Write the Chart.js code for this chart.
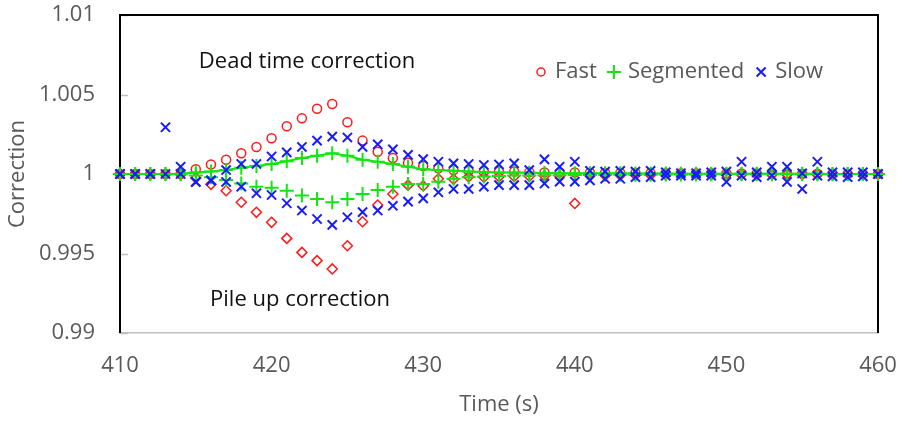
<!DOCTYPE html>
<html>
<head>
<meta charset="utf-8">
<script src="https://cdn.jsdelivr.net/npm/chart.js@4.4.0/dist/chart.umd.min.js"></script>
<style>
  html, body { margin: 0; padding: 0; background: #fff; }
</style>
</head>
<body>
<canvas id="chart" width="897" height="421"></canvas>
<script>
// time axis (s)
var time = [410, 411, 412, 413, 414, 415, 416, 417, 418, 419,
            420, 421, 422, 423, 424, 425, 426, 427, 428, 429,
            430, 431, 432, 433, 434, 435, 436, 437, 438, 439,
            440, 441, 442, 443, 444, 445, 446, 447, 448, 449,
            450, 451, 452, 453, 454, 455, 456, 457, 458, 459, 460];

// dead time correction per method
var fastDead = [1, 1, 1, 1, 1,
  1.0003, 1.0006, 1.0009, 1.0013, 1.0017,
  1.00225, 1.003, 1.0035, 1.0041, 1.0044,
  1.00325, 1.0021, 1.0014, 1.001, 1.0007,
  1.0005, 1.00036, 1.00025, 1.0002, 1.00015,
  1.00015, 1.00015, 1.00012, 1.0001, 1.0001,
  1.0001, 1.00008, 1.00008, 1.00006, 1.00006,
  1.00005, 1.00005, 1.00004, 1.00004, 1.00004,
  1.00003, 1.00003, 1.00003, 1.00003, 1.00002,
  1.00002, 1.00002, 1.00002, 1.00001, 1.00001, 1];
var segDead = [1, 1, 1, 1, 1.00002,
  1.0001, 1.00015, 1.00025, 1.0004, 1.0005,
  1.00063, 1.0008, 1.001, 1.00115, 1.0013,
  1.00115, 1.0009, 1.00077, 1.00063, 1.00046,
  1.0003, 1.00025, 1.0002, 1.00015, 1.00012,
  1.0001, 1.00009, 1.00008, 1.00007, 1.00006,
  1.00005, 1.00005, 1.00004, 1.00004, 1.00003,
  1.00003, 1.00003, 1.00002, 1.00002, 1.00002,
  1.00002, 1.00001, 1.00001, 1.00001, 1.00001,
  1.00001, 1.00001, 1, 1, 1, 1];
var slowDead = [1, 1, 1, 1.00294, 1.00046,
  0.9995, 0.9996, 1.00025, 1.00063, 1.00063,
  1.0011, 1.00136, 1.0017, 1.0021, 1.00235,
  1.0023, 1.0017, 1.00187, 1.00155, 1.0012,
  1.00094, 1.00077, 1.00067, 1.00063, 1.00057,
  1.0006, 1.00067, 1.00025, 1.00092, 1.00046,
  1.00077, 1.0002, 1.00015, 1.0002, 1.00015,
  1.0002, 1.0001, 1.00005, 1.00005, 1.0001,
  1.00015, 1.00077, 1.0001, 1.00046, 1.00046,
  1.00004, 1.00077, 1.0001, 1.0001, 1.0001, 1];

// pile up correction per method
var fastPile = [1, 1, 1, 1, 0.99998,
  0.99975, 0.99935, 0.99895, 0.99822, 0.99759,
  0.99696, 0.99595, 0.99507, 0.99455, 0.99403,
  0.99549, 0.997, 0.99805, 0.99874, 0.9993,
  0.99925, 0.9997, 0.99967, 0.99982, 0.9998,
  0.99982, 0.99984, 0.99986, 0.99988, 0.99988,
  0.99815, 0.9999, 0.9999, 0.99992, 0.99993,
  0.99994, 0.99995, 0.99995, 0.99996, 0.99996,
  0.99996, 0.99997, 0.99997, 0.99997, 0.99998,
  0.99998, 0.99998, 0.99998, 0.99999, 0.99999, 1];
var segPile = [1, 1, 1, 1, 0.99998,
  0.9999, 0.9998, 0.99962, 0.9994, 0.9992,
  0.99914, 0.99895, 0.99864, 0.99843, 0.99822,
  0.99843, 0.99874, 0.99899, 0.9992, 0.99937,
  0.99937, 0.99952, 0.9997, 0.9998, 0.99985,
  0.99988, 0.9999, 0.9999, 0.99992, 0.99992,
  0.99993, 0.99994, 0.99995, 0.99995, 0.99996,
  0.99996, 0.99997, 0.99997, 0.99997, 0.99998,
  0.99998, 0.99998, 0.99998, 0.99999, 0.99999,
  0.99999, 0.99999, 0.99999, 1, 1, 1];
var slowPile = [1, 1, 1, 1, 1,
  0.9995, 0.99958, 0.9995, 0.9992, 0.99879,
  0.99868, 0.99816, 0.9977, 0.99717, 0.9968,
  0.99728, 0.9976, 0.9977, 0.998, 0.99826,
  0.99847, 0.99885, 0.99906, 0.99906, 0.9992,
  0.9993, 0.9993, 0.9993, 0.9994, 0.99952,
  0.99952, 0.9996, 0.9997, 0.9997, 0.9998,
  0.9998, 0.9999, 0.9999, 0.9999, 0.9999,
  0.9995, 0.9999, 0.9998, 0.9999, 0.9995,
  0.99906, 0.9999, 0.99985, 0.9998, 0.99985, 1];

var xTicks = [410, 420, 430, 440, 450, 460];
var yTicks = [0.99, 0.995, 1, 1.005, 1.01];
var yTickText = ['0.99', '0.995', '1', '1.005', '1.01'];

var RED = '#ff1a1a', GREEN = '#11e611', BLUE = '#1a1aff';
var FONT = '"Open Sans", sans-serif';

function pts(ys) {
  return time.map(function(t, i) { return {x: t, y: ys[i]}; });
}

// key markers drawn by hand
function marker(ctx, style, x, y, r, color) {
  ctx.save();
  ctx.strokeStyle = color;
  ctx.lineWidth = style === 'circle' ? 1.5 : 2;
  ctx.beginPath();
  if (style === 'circle') {
    ctx.arc(x, y, r, 0, Math.PI * 2);
  } else if (style === 'cross') {
    ctx.moveTo(x - r, y); ctx.lineTo(x + r, y);
    ctx.moveTo(x, y - r); ctx.lineTo(x, y + r);
  } else {
    ctx.moveTo(x - r, y - r); ctx.lineTo(x + r, y + r);
    ctx.moveTo(x + r, y - r); ctx.lineTo(x - r, y + r);
  }
  ctx.stroke();
  ctx.restore();
}

var keyItems = [
  {text: 'Fast', style: 'circle', r: 4, color: RED},
  {text: 'Segmented', style: 'cross', r: 7, color: GREEN},
  {text: 'Slow', style: 'crossRot', r: 4.5, color: BLUE}
];

// no extra room for the end tick labels, the plot box is fixed
function noPad(s) {
  s.paddingTop = 0; s.paddingBottom = 0;
  s.paddingLeft = 0; s.paddingRight = 0;
}

var frame = {
  id: 'frame',
  beforeDatasetsDraw: function(chart) {
    var a = chart.chartArea, ctx = chart.ctx, y = chart.scales.y;
    ctx.save();
    // short inside tick marks on the value axis
    ctx.strokeStyle = '#bfbfbf';
    ctx.lineWidth = 1.5;
    yTicks.forEach(function(v) {
      var py = Math.round(y.getPixelForValue(v)) + 0.5;
      ctx.beginPath();
      ctx.moveTo(a.left, py); ctx.lineTo(a.left + 8, py);
      ctx.stroke();
    });
    ctx.strokeStyle = '#000';
    ctx.lineWidth = 2;
    ctx.beginPath();
    ctx.moveTo(a.left, a.bottom); ctx.lineTo(a.left, a.top);
    ctx.lineTo(a.right, a.top); ctx.lineTo(a.right, a.bottom);
    ctx.stroke();
    ctx.restore();
  },
  afterDraw: function(chart) {
    var ctx = chart.ctx;
    ctx.save();
    ctx.font = '22px ' + FONT;
    ctx.textBaseline = 'middle';
    ctx.textAlign = 'center';
    ctx.fillStyle = '#111';
    ctx.fillText('Dead time correction', 307, 62);
    ctx.fillText('Pile up correction', 300, 300);

    ctx.textAlign = 'left';
    ctx.fillStyle = '#595959';
    var x = 541;
    keyItems.forEach(function(k) {
      marker(ctx, k.style, x, 72, k.r, k.color);
      ctx.fillText(k.text, x + 14, 72);
      x += 14 + ctx.measureText(k.text).width + 17;
    });
    ctx.restore();
  }
};

new Chart(document.getElementById('chart'), {
  type: 'scatter',
  data: {
    datasets: [
      {label: 'Slow', data: pts(slowDead), pointStyle: 'crossRot', pointRadius: 6.5,
       borderColor: BLUE, pointBorderWidth: 2, clip: false},
      {label: 'Slow', data: pts(slowPile), pointStyle: 'crossRot', pointRadius: 6.5,
       borderColor: BLUE, pointBorderWidth: 2, clip: false},
      {label: 'Segmented', data: pts(segDead), pointStyle: 'cross', pointRadius: 7,
       borderColor: GREEN, pointBorderWidth: 2, showLine: true, borderWidth: 2,
       tension: 0, clip: false},
      {label: 'Segmented', data: pts(segPile), pointStyle: 'cross', pointRadius: 7,
       borderColor: GREEN, pointBorderWidth: 2, clip: false},
      {label: 'Fast', data: pts(fastDead), pointStyle: 'circle', pointRadius: 4.5,
       borderColor: RED, backgroundColor: 'rgba(0,0,0,0)', pointBorderWidth: 1.5, clip: false},
      {label: 'Fast', data: pts(fastPile), pointStyle: 'rectRot', pointRadius: 5,
       borderColor: RED, backgroundColor: 'rgba(0,0,0,0)', pointBorderWidth: 1.5, clip: false}
    ]
  },
  options: {
    responsive: false,
    animation: false,
    layout: {padding: {left: 0, right: 19, top: 15, bottom: 0}},
    plugins: {legend: {display: false}, tooltip: {enabled: false}},
    scales: {
      x: {
        type: 'linear', min: 410, max: 460,
        afterBuildTicks: function(s) { s.ticks = xTicks.map(function(v) { return {value: v}; }); },
        afterFit: function(s) { s.height = 88; noPad(s); },
        grid: {display: false, drawTicks: false},
        border: {display: true, color: '#bfbfbf', width: 1.5},
        ticks: {color: '#595959', font: {family: FONT, size: 22}, padding: 20, maxRotation: 0},
        title: {display: true, text: 'Time (s)', color: '#595959',
                font: {family: FONT, size: 22}, padding: {top: 0, bottom: 3}}
      },
      y: {
        type: 'linear', min: 0.99, max: 1.01,
        afterBuildTicks: function(s) { s.ticks = yTicks.map(function(v) { return {value: v}; }); },
        afterFit: function(s) { s.width = 120; noPad(s); },
        grid: {display: false, drawTicks: false},
        border: {display: false},
        ticks: {color: '#595959', font: {family: FONT, size: 22}, padding: 25,
                callback: function(v) { return yTickText[yTicks.indexOf(v)]; }},
        title: {display: true, text: 'Correction', color: '#595959',
                font: {family: FONT, size: 22}, padding: {top: 5, bottom: 0}}
      }
    }
  },
  plugins: [frame]
});
</script>
</body>
</html>
